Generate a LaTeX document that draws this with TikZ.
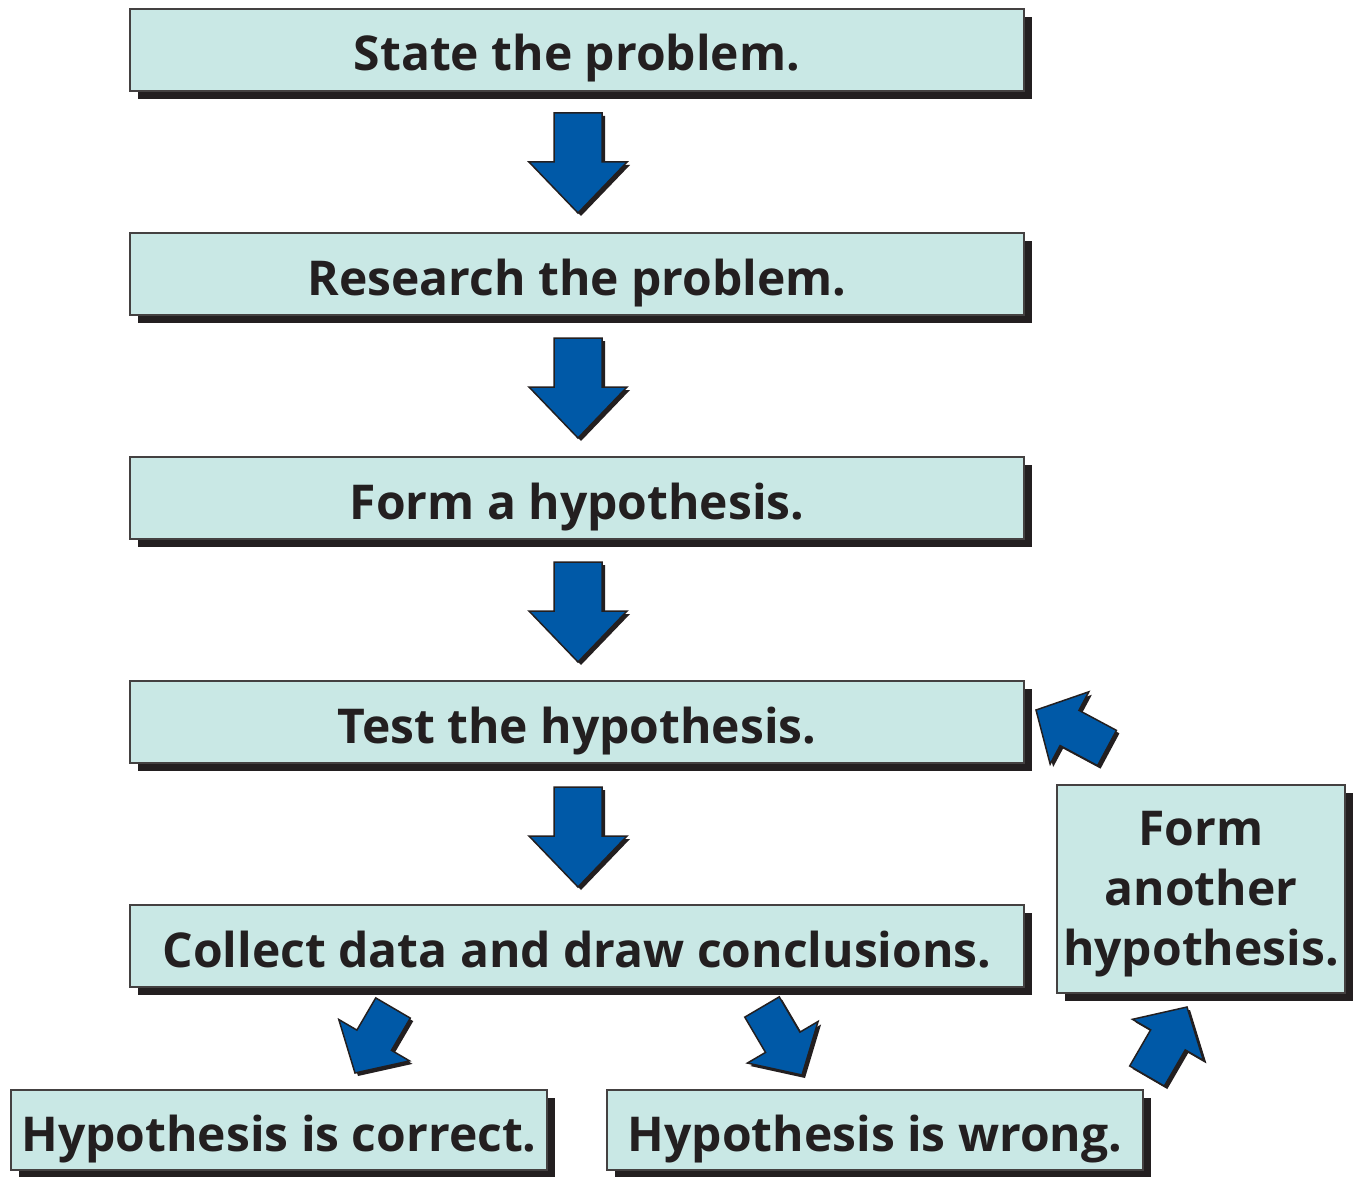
\documentclass[tikz,border=0pt]{standalone}
\usepackage{fontspec}
\setmainfont{Open Sans}
\usetikzlibrary{calc,shadows}
\definecolor{boxfill}{RGB}{201,232,229}
\definecolor{arrowblue}{RGB}{0,89,167}
\definecolor{inkc}{RGB}{35,31,32}
\tikzset{
  box/.style={draw=inkc!85, line width=1.5pt, fill=boxfill, text=inkc,
    font=\fontsize{48}{60}\selectfont\bfseries, inner sep=0pt,
    text height=46pt, text depth=4pt, align=center,
    drop shadow={shadow xshift=8pt, shadow yshift=-8pt, opacity=1, fill=inkc}},
  blockarrowstyle/.style={fill=arrowblue, draw=inkc, line width=1.5pt, line join=miter,
    drop shadow={shadow xshift=3pt, shadow yshift=-3pt, opacity=1, fill=inkc}},
}
\newcommand\blockarrow[6]{%
  \coordinate (#1-tail) at #2;
  \coordinate (#1-tip) at #3;
  \coordinate (#1-base) at ($(#1-tip)!#6!(#1-tail)$);
  \filldraw[blockarrowstyle]
    ($(#1-tail)!#4!90:(#1-tip)$) -- ($(#1-base)!#4!90:(#1-tip)$) --
    ($(#1-base)!#5!90:(#1-tip)$) -- (#1-tip) --
    ($(#1-base)!#5!-90:(#1-tip)$) -- ($(#1-base)!#4!-90:(#1-tip)$) --
    ($(#1-tail)!#4!-90:(#1-tip)$) -- cycle;
}
\begin{document}
\begin{tikzpicture}[x=1pt,y=-1pt]
\useasboundingbox (0,0) rectangle (1355,1177);
\node[box, minimum width=894pt, minimum height=82pt] (s1) at (577,50) {State the problem.};
\node[box, minimum width=894pt, minimum height=82pt] (s2) at (577,274) {Research the problem.};
\node[box, minimum width=894pt, minimum height=82pt] (s3) at (577,498) {Form a hypothesis.};
\node[box, minimum width=894pt, minimum height=82pt] (s4) at (577,722) {Test the hypothesis.};
\node[box, minimum width=894pt, minimum height=82pt] (s5) at (577,946) {Collect data and draw conclusions.};
\node[box, minimum width=536pt, minimum height=80pt] (ok) at (279,1130) {Hypothesis is correct.};
\node[box, minimum width=536pt, minimum height=80pt] (bad) at (875,1130) {Hypothesis is wrong.};
\node[box, minimum width=288pt, minimum height=208pt, text height=, text depth=] (new) at (1201,889) {\raisebox{-5pt}[\height][\depth]{\parbox{280pt}{\centering Form\\another\\hypothesis.}}};
\blockarrow{a1}{(578,113)}{(578,213)}{24pt}{49pt}{51pt}
\blockarrow{a2}{(578,338)}{(578,438)}{24pt}{49pt}{51pt}
\blockarrow{a3}{(578,562)}{(578,662)}{24pt}{49pt}{51pt}
\blockarrow{a4}{(578,787)}{(578,887)}{24pt}{49pt}{51pt}
\blockarrow{a5}{(393,1008)}{(355,1073)}{20pt}{41pt}{38pt}
\blockarrow{a6}{(762,1007)}{(802,1075)}{20pt}{41pt}{38pt}
\blockarrow{a7}{(1147,1076)}{(1187,1007)}{20pt}{41pt}{38pt}
\blockarrow{a8}{(1107,748)}{(1036,710)}{20pt}{41pt}{38pt}
\end{tikzpicture}
\end{document}
